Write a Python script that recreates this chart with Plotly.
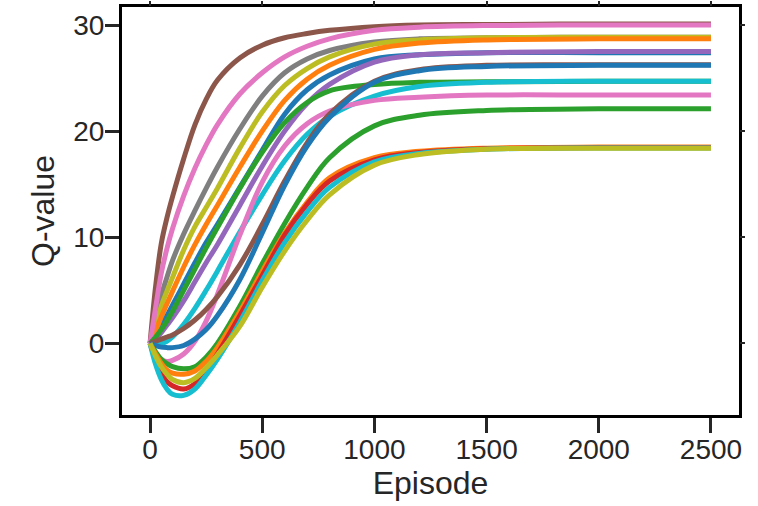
import plotly.graph_objects as go

episodes = [0, 25, 50, 75, 100, 150, 200, 250, 300, 400, 500, 600, 700, 800, 1000, 1200, 1500, 2000, 2500]

# Q-value curves, listed in drawing order (bottom -> top)
q_blue_a   = [0, 0.8, 1.7, 2.6, 3.6, 5.6, 7.6, 9.5, 11.2, 14.7, 18.2, 21.6, 23.9, 25.3, 26.8, 27.2, 27.4, 27.4, 27.4]
q_gray_a   = [0, 2.4, 4.5, 6.2, 7.8, 10.3, 12.5, 14.6, 16.6, 20.2, 23.3, 25.5, 26.8, 27.6, 28.4, 28.7, 28.8, 28.85, 28.85]
q_olive_a  = [0, 1.8, 3.5, 4.9, 6.2, 8.8, 11.0, 12.8, 14.6, 18.4, 21.8, 24.3, 25.9, 27.0, 28.2, 28.6, 28.8, 28.85, 28.85]
q_orange_a = [0, 1.2, 2.5, 3.7, 4.9, 7.2, 9.3, 11.2, 13.0, 16.6, 20.0, 22.9, 24.9, 26.2, 27.7, 28.3, 28.6, 28.7, 28.7]
q_purple_a = [0, 0.4, 1.0, 1.7, 2.4, 4.0, 5.8, 7.6, 9.3, 13.0, 16.7, 20.0, 22.6, 24.4, 26.5, 27.2, 27.4, 27.5, 27.5]
q_brown_a  = [0, 5.4, 9.4, 11.8, 13.8, 17.4, 20.6, 23.0, 24.8, 26.9, 28.1, 28.8, 29.2, 29.5, 29.85, 30.0, 30.05, 30.1, 30.1]
q_pink_a   = [0, 3.4, 6.6, 8.9, 10.8, 13.9, 16.5, 18.7, 20.6, 23.5, 25.5, 27.0, 28.0, 28.7, 29.5, 29.8, 29.95, 30.0, 30.0]
q_green_a  = [0, 0.6, 1.3, 2.1, 3.0, 5.0, 7.0, 9.0, 10.9, 14.6, 18.0, 20.8, 22.7, 23.8, 24.4, 24.6, 24.65, 24.7, 24.7]
q_cyan_a   = [0, -0.05, 0.0, 0.2, 0.6, 1.8, 3.3, 5.0, 6.8, 10.5, 14.0, 17.2, 19.7, 21.4, 23.3, 24.2, 24.6, 24.7, 24.7]
q_pink_b   = [0, -0.9, -1.5, -1.7, -1.6, -1.0, 0.2, 2.1, 4.6, 10.2, 15.2, 18.6, 20.7, 21.9, 22.9, 23.2, 23.4, 23.4, 23.4]
q_brown_b  = [0, 0.2, 0.4, 0.6, 0.8, 1.4, 2.2, 3.2, 4.4, 7.4, 11.2, 15.3, 18.9, 21.6, 24.7, 25.8, 26.2, 26.25, 26.25]
q_blue_b   = [0, -0.2, -0.35, -0.4, -0.4, -0.2, 0.4, 1.3, 2.6, 6.0, 10.4, 14.9, 18.6, 21.3, 24.6, 25.7, 26.1, 26.2, 26.2]
q_green_b  = [0, -0.8, -1.5, -1.9, -2.2, -2.4, -2.2, -1.3, 0.0, 3.5, 7.5, 11.3, 14.7, 17.5, 20.5, 21.5, 21.95, 22.1, 22.1]
q_orange_b = [0, -1.0, -1.9, -2.5, -2.8, -2.9, -2.6, -1.7, -0.4, 3.0, 6.8, 10.4, 13.3, 15.6, 17.5, 18.1, 18.4, 18.5, 18.5]
q_red_b    = [0, -1.6, -2.8, -3.6, -4.0, -4.3, -3.8, -2.6, -1.0, 2.6, 6.4, 10.2, 13.1, 15.3, 17.3, 18.0, 18.35, 18.45, 18.45]
q_cyan_b   = [0, -2.0, -3.4, -4.3, -4.8, -4.9, -4.3, -3.0, -1.5, 2.0, 5.9, 9.5, 12.4, 14.7, 17.1, 17.9, 18.3, 18.42, 18.42]
q_olive_b  = [0, -1.2, -2.2, -2.9, -3.4, -3.7, -3.3, -2.3, -1.1, 1.6, 5.3, 8.7, 11.6, 14.0, 16.8, 17.8, 18.3, 18.4, 18.4]

series = [
    (q_blue_a, "#1f77b4"), (q_gray_a, "#7f7f7f"), (q_olive_a, "#bcbd22"),
    (q_orange_a, "#ff7f0e"), (q_purple_a, "#9467bd"), (q_brown_a, "#8c564b"),
    (q_pink_a, "#e377c2"), (q_green_a, "#2ca02c"), (q_cyan_a, "#17becf"),
    (q_pink_b, "#e377c2"), (q_brown_b, "#8c564b"), (q_blue_b, "#1f77b4"),
    (q_green_b, "#2ca02c"), (q_orange_b, "#ff7f0e"), (q_red_b, "#d62728"),
    (q_cyan_b, "#17becf"), (q_olive_b, "#bcbd22"),
]

x_ticks = [0, 500, 1000, 1500, 2000, 2500]
y_ticks = [0, 10, 20, 30]
x_range = [-125, 2625]
y_range = [-6.75, 31.7]

fig = go.Figure()
for ys, col in series:
    fig.add_trace(go.Scatter(x=episodes, y=ys, mode="lines",
                             line=dict(color=col, width=5, shape="spline", smoothing=1.0),
                             showlegend=False, hoverinfo="skip"))
# invisible trace for the mirrored tick axes
fig.add_trace(go.Scatter(x=[None], y=[None], xaxis="x2", yaxis="y2", showlegend=False))

ink = "#262626"
fnt = "Liberation Sans, Arial, sans-serif"
fig.update_layout(
    width=758, height=506,
    margin=dict(l=122, r=19, t=7, b=91),
    paper_bgcolor="white", plot_bgcolor="white",
    font=dict(family=fnt, color=ink),
    xaxis=dict(range=x_range, tickvals=x_ticks, ticks="outside", ticklen=15, tickwidth=2.5,
               tickcolor=ink, showline=True, linewidth=3, linecolor="black", mirror=True,
               showgrid=False, zeroline=False, tickfont=dict(size=28, color=ink),
               ticklabelstandoff=-8, automargin=False,
               title=dict(text="Episode", font=dict(size=32, color=ink), standoff=4)),
    yaxis=dict(range=y_range, tickvals=y_ticks, ticks="outside", ticklen=14, tickwidth=2.5,
               tickcolor=ink, showline=True, linewidth=3, linecolor="black", mirror=True,
               showgrid=False, zeroline=False, tickfont=dict(size=28, color=ink),
               ticklabelstandoff=-5, automargin=False,
               title=dict(text="Q-value", font=dict(size=32, color=ink), standoff=10)),
    xaxis2=dict(range=x_range, tickvals=x_ticks, overlaying="x", side="top", ticks="outside",
                ticklen=5, tickwidth=2, tickcolor=ink, showticklabels=False, showline=False,
                showgrid=False, zeroline=False, automargin=False),
    yaxis2=dict(range=y_range, tickvals=y_ticks, overlaying="y", side="right", ticks="outside",
                ticklen=5, tickwidth=2, tickcolor=ink, showticklabels=False, showline=False,
                showgrid=False, zeroline=False, automargin=False),
)

fig.write_html("out.html", config={"displayModeBar": False},
               post_script="document.body.style.margin='0';")
